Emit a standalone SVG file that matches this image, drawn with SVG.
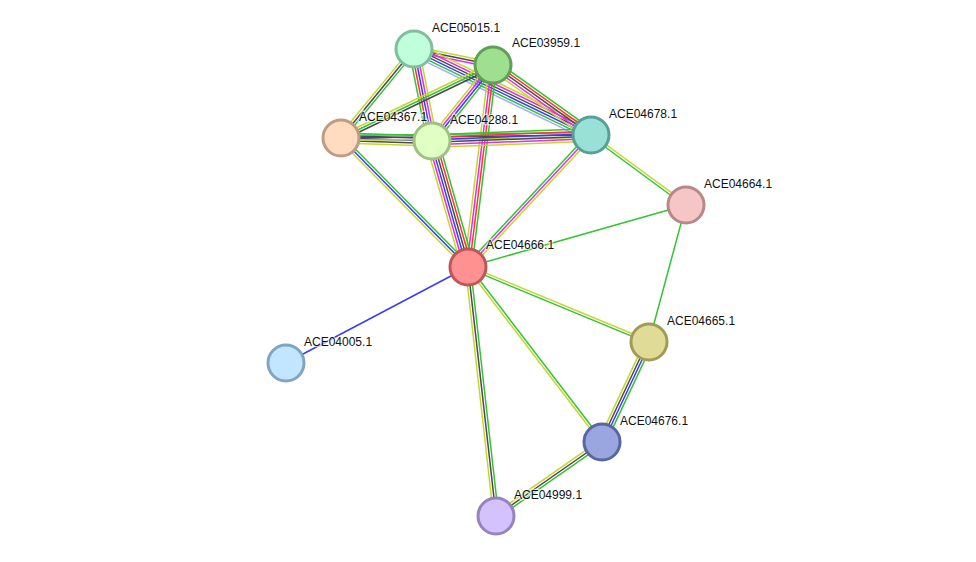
<svg xmlns="http://www.w3.org/2000/svg" width="976" height="562" viewBox="0 0 976 562">
<style>
line{stroke-width:1.5;fill:none;vector-effect:non-scaling-stroke}
.g{stroke:#33c433}.y{stroke:#c6d630}.b{stroke:#3b3bf5}.k{stroke:#4a4a4a}.m{stroke:#e02ee0}.r{stroke:#ff3333}.h{stroke:#a9a9ff}
circle{stroke-width:3}
text{font-family:"Liberation Sans",Arial,sans-serif;font-size:12px;fill:#111;stroke:#fff;stroke-width:2.5;stroke-opacity:0.6;paint-order:stroke}
</style>
<rect width="976" height="562" fill="#fff"/>
<g id="connectors">
<g transform="translate(414,49) rotate(11.45) scale(1,1.15)"><line x2="80.6" y1="-2.2" y2="-2.2" class="y"/><line x2="80.6" class="k"/><line x2="80.6" y1="2.2" y2="2.2" class="m"/></g>
<g transform="translate(414,49) rotate(25.9) scale(1,1.15)"><line x2="196.8" y1="-5.5" y2="-5.5" class="y"/><line x2="196.8" y1="-3.3" y2="-3.3" class="m"/><line x2="196.8" y1="-1.1" y2="-1.1" class="k"/><line x2="196.8" y1="1.1" y2="1.1" class="b"/><line x2="196.8" y1="3.3" y2="3.3" class="g"/><line x2="196.8" y1="5.5" y2="5.5" class="h"/></g>
<g transform="translate(414,49) rotate(129.4) scale(1,1.15)"><line x2="115.1" y1="-2.2" y2="-2.2" class="g"/><line x2="115.1" class="k"/><line x2="115.1" y1="2.2" y2="2.2" class="y"/></g>
<g transform="translate(414,49) rotate(78.9) scale(1,1.15)"><line x2="93.7" y1="-4.4" y2="-4.4" class="y"/><line x2="93.7" y1="-2.2" y2="-2.2" class="m"/><line x2="93.7" class="b"/><line x2="93.7" y1="2.2" y2="2.2" class="r"/><line x2="93.7" y1="4.4" y2="4.4" class="g"/></g>
<g transform="translate(493,65) rotate(154.35) scale(1,1.15)"><line x2="168.6" y1="-2.2" y2="-2.2" class="k"/><line x2="168.6" class="g"/><line x2="168.6" y1="2.2" y2="2.2" class="y"/></g>
<g transform="translate(493,65) rotate(128.75) scale(1,1.15)"><line x2="97.5" y1="-3.3" y2="-3.3" class="g"/><line x2="97.5" y1="-1.1" y2="-1.1" class="b"/><line x2="97.5" y1="1.1" y2="1.1" class="m"/><line x2="97.5" y1="3.3" y2="3.3" class="y"/></g>
<g transform="translate(493,65) rotate(35.5) scale(1,1.15)"><line x2="120.4" y1="-4.4" y2="-4.4" class="g"/><line x2="120.4" y1="-2.2" y2="-2.2" class="r"/><line x2="120.4" class="k"/><line x2="120.4" y1="2.2" y2="2.2" class="m"/><line x2="120.4" y1="4.4" y2="4.4" class="y"/></g>
<g transform="translate(493,65) rotate(97.05) scale(1,1.15)"><line x2="203.5" y1="-3.3" y2="-3.3" class="g"/><line x2="203.5" y1="-1.1" y2="-1.1" class="r"/><line x2="203.5" y1="1.1" y2="1.1" class="m"/><line x2="203.5" y1="3.3" y2="3.3" class="y"/></g>
<g transform="translate(341,138) rotate(1.89) scale(1,1.15)"><line x2="91" y1="-4.4" y2="-4.4" class="g"/><line x2="91" y1="-2.2" y2="-2.2" class="k"/><line x2="91" class="b"/><line x2="91" y1="2.2" y2="2.2" class="k"/><line x2="91" y1="4.4" y2="4.4" class="y"/></g>
<g transform="translate(341,138) rotate(-0.69) scale(1,1.15)"><line x2="250" y1="-2.2" y2="-2.2" class="g"/><line x2="250" class="k"/><line x2="250" y1="2.2" y2="2.2" class="y"/></g>
<g transform="translate(432,141) rotate(-2.16) scale(1,1.15)"><line x2="159.1" y1="-5.5" y2="-5.5" class="g"/><line x2="159.1" y1="-3.3" y2="-3.3" class="r"/><line x2="159.1" y1="-1.1" y2="-1.1" class="b"/><line x2="159.1" y1="1.1" y2="1.1" class="k"/><line x2="159.1" y1="3.3" y2="3.3" class="m"/><line x2="159.1" y1="5.5" y2="5.5" class="y"/></g>
<g transform="translate(432,141) rotate(74.05) scale(1,1.15)"><line x2="131" y1="-5.5" y2="-5.5" class="g"/><line x2="131" y1="-3.3" y2="-3.3" class="r"/><line x2="131" y1="-1.1" y2="-1.1" class="k"/><line x2="131" y1="1.1" y2="1.1" class="b"/><line x2="131" y1="3.3" y2="3.3" class="m"/><line x2="131" y1="5.5" y2="5.5" class="y"/></g>
<g transform="translate(341,138) rotate(45.45) scale(1,1.15)"><line x2="181" y1="-2.2" y2="-2.2" class="g"/><line x2="181" class="b"/><line x2="181" y1="2.2" y2="2.2" class="y"/></g>
<g transform="translate(591,135) rotate(133) scale(1,1.15)"><line x2="180.4" y1="-2.2" y2="-2.2" class="y"/><line x2="180.4" class="m"/><line x2="180.4" y1="2.2" y2="2.2" class="g"/></g>
<g transform="translate(591,135) rotate(36.38) scale(1,1.15)"><line x2="118" y1="-1.1" y2="-1.1" class="y"/><line x2="118" y1="1.1" y2="1.1" class="g"/></g>
<g transform="translate(686,205) rotate(164.12)"><line x2="226.6" class="g"/></g>
<g transform="translate(686,205) rotate(105.11)"><line x2="141.9" class="g"/></g>
<g transform="translate(468,267) rotate(22.5) scale(1,1.15)"><line x2="195.9" y1="-1.1" y2="-1.1" class="y"/><line x2="195.9" y1="1.1" y2="1.1" class="g"/></g>
<g transform="translate(468,267) rotate(52.56) scale(1,1.15)"><line x2="220.4" y1="-1.1" y2="-1.1" class="g"/><line x2="220.4" y1="1.1" y2="1.1" class="y"/></g>
<g transform="translate(468,267) rotate(83.58) scale(1,1.15)"><line x2="250.6" y1="-2.2" y2="-2.2" class="g"/><line x2="250.6" class="k"/><line x2="250.6" y1="2.2" y2="2.2" class="y"/></g>
<g transform="translate(649,342) rotate(115.17) scale(1,1.15)"><line x2="110.5" y1="-3.3" y2="-3.3" class="g"/><line x2="110.5" y1="-1.1" y2="-1.1" class="b"/><line x2="110.5" y1="1.1" y2="1.1" class="k"/><line x2="110.5" y1="3.3" y2="3.3" class="y"/></g>
<g transform="translate(602,442) rotate(145.08) scale(1,1.15)"><line x2="129.3" y1="-2.2" y2="-2.2" class="g"/><line x2="129.3" class="k"/><line x2="129.3" y1="2.2" y2="2.2" class="y"/></g>
<g transform="translate(468,267) rotate(152.19)"><line x2="205.8" class="b"/></g>
</g>
<g id="ACE05015.1"><circle cx="414" cy="49" r="18" fill="#bfffdb" stroke="#7fbf9b"/><text x="432" y="32">ACE05015.1</text></g>
<g id="ACE03959.1"><circle cx="493" cy="65" r="18" fill="#9fdf90" stroke="#5f9f58"/><text x="512" y="47">ACE03959.1</text></g>
<g id="ACE04367.1"><circle cx="341" cy="138" r="18" fill="#ffdcbf" stroke="#bf9c80"/><text x="359" y="121">ACE04367.1</text></g>
<g id="ACE04288.1"><circle cx="432" cy="141" r="18" fill="#e0ffc2" stroke="#a0bf82"/><text x="450" y="124">ACE04288.1</text></g>
<g id="ACE04678.1"><circle cx="591" cy="135" r="18" fill="#99e0d6" stroke="#599f98"/><text x="609" y="118">ACE04678.1</text></g>
<g id="ACE04664.1"><circle cx="686" cy="205" r="18" fill="#f6c6c6" stroke="#b88888"/><text x="704" y="188">ACE04664.1</text></g>
<g id="ACE04666.1"><circle cx="468" cy="267" r="18" fill="#ff9191" stroke="#bf5656"/><text x="486" y="249">ACE04666.1</text></g>
<g id="ACE04005.1"><circle cx="286" cy="363" r="18" fill="#c2e6ff" stroke="#80a6bf"/><text x="304" y="346">ACE04005.1</text></g>
<g id="ACE04665.1"><circle cx="649" cy="342" r="18" fill="#e0dc98" stroke="#a09c58"/><text x="667" y="325">ACE04665.1</text></g>
<g id="ACE04676.1"><circle cx="602" cy="442" r="18" fill="#99a6e0" stroke="#5966a0"/><text x="620" y="425">ACE04676.1</text></g>
<g id="ACE04999.1"><circle cx="496" cy="516" r="18" fill="#d4c2ff" stroke="#9682bf"/><text x="514" y="499">ACE04999.1</text></g>
</svg>
